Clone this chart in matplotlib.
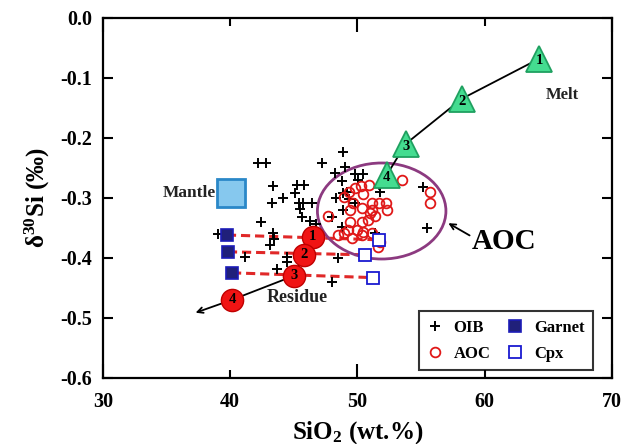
import matplotlib
matplotlib.use("Agg")
import matplotlib.pyplot as plt
from matplotlib.patches import Ellipse
from matplotlib.ticker import FixedLocator, FormatStrFormatter

plt.rcParams['font.family'] = ['Liberation Serif', 'DejaVu Serif']
plt.rcParams['font.weight'] = 'bold'
plt.rcParams['mathtext.fontset'] = 'custom'
plt.rcParams['mathtext.rm'] = 'Liberation Serif:bold'
plt.rcParams['mathtext.bf'] = 'Liberation Serif:bold'
plt.rcParams['mathtext.default'] = 'bf'

# ---------------- data ----------------
oib_sio2 = [42.18, 42.81, 47.21, 48.86, 43.36, 45.25, 45.80, 45.09, 44.15, 43.28,
            45.40, 45.72, 45.48, 46.42, 45.64, 46.27, 42.42, 46.74, 43.36, 43.44,
            43.12, 48.31, 48.00, 39.04, 41.16, 44.46, 44.46, 43.67, 48.47, 48.00,
            48.78, 48.23, 49.02, 49.80, 50.43, 50.04, 48.78, 48.86, 49.17, 49.33,
            49.80, 48.86, 51.38, 55.15, 55.46, 51.77]
oib_d30 = [-0.242, -0.242, -0.242, -0.223, -0.280, -0.278, -0.278, -0.292, -0.300, -0.308,
           -0.308, -0.308, -0.318, -0.308, -0.332, -0.338, -0.340, -0.343, -0.358, -0.368,
           -0.378, -0.300, -0.332, -0.360, -0.398, -0.398, -0.407, -0.418, -0.400, -0.440,
           -0.348, -0.258, -0.248, -0.260, -0.260, -0.270, -0.272, -0.292, -0.290, -0.302,
           -0.308, -0.320, -0.358, -0.282, -0.350, -0.290]

aoc_sio2 = [53.50, 55.70, 55.70, 50.28, 50.90, 49.80, 49.33, 48.94, 50.43, 51.14,
            51.69, 52.24, 49.65, 47.68, 49.41, 50.35, 51.14, 52.32, 49.41, 50.35,
            50.83, 51.38, 50.98, 49.25, 49.96, 50.43, 48.47, 49.57, 50.35, 51.14,
            51.77, 51.61, 48.94]
aoc_d30 = [-0.270, -0.290, -0.308, -0.280, -0.278, -0.283, -0.290, -0.298, -0.293, -0.308,
           -0.308, -0.308, -0.308, -0.330, -0.320, -0.317, -0.320, -0.320, -0.340, -0.340,
           -0.337, -0.330, -0.325, -0.353, -0.353, -0.357, -0.362, -0.367, -0.362, -0.358,
           -0.373, -0.382, -0.358]

garnet_sio2 = [39.74, 39.82, 40.14]
garnet_d30 = [-0.362, -0.390, -0.425]
cpx_sio2 = [51.69, 50.59, 51.22]
cpx_d30 = [-0.370, -0.395, -0.433]

melt_sio2 = [64.3, 58.2, 53.8, 52.3]
melt_d30 = [-0.068, -0.135, -0.210, -0.262]
melt_arrow_end = (51.5, -0.292)

res_sio2 = [46.5, 45.8, 45.0, 40.14]
res_d30 = [-0.365, -0.395, -0.430, -0.470]
res_arrow_end = (37.07, -0.493)

step_labels = ['1', '2', '3', '4']

mantle_sio2 = [40.06]
mantle_d30 = [-0.292]

aoc_ellipse_center = (51.9, -0.322)
aoc_ellipse_size = (10.1, 0.160)

# ---------------- figure ----------------
fig = plt.figure(figsize=(6.28, 4.44), dpi=100)
ax = fig.add_axes([0.164, 0.149, 0.8105, 0.811])

# dashed lines garnet -> cpx
for gx, gy, cx, cy in zip(garnet_sio2, garnet_d30, cpx_sio2, cpx_d30):
    ax.plot([gx, cx], [gy, cy], ls=(0, (3, 1.6)), color='#e02828', lw=2.2, zorder=2)

# AOC ellipse
ax.add_patch(Ellipse(aoc_ellipse_center, aoc_ellipse_size[0], aoc_ellipse_size[1],
                     fill=False, edgecolor='#8c3a80', lw=2.0, zorder=3))

# OIB and AOC
ax.plot(oib_sio2, oib_d30, ls='none', marker='+', ms=7, mew=1.4, color='black',
        zorder=4, label='OIB')
ax.plot(aoc_sio2, aoc_d30, ls='none', marker='o', ms=7, mew=1.3, mfc='none',
        mec='#e01818', zorder=4, label='AOC')

# Garnet & Cpx
ax.plot(garnet_sio2, garnet_d30, ls='none', marker='s', ms=9, mfc='#20207a',
        mec='#1c1cb8', mew=1.2, zorder=5, label='Garnet')
ax.plot(cpx_sio2, cpx_d30, ls='none', marker='s', ms=9, mfc='white',
        mec='#1a1ad0', mew=1.3, zorder=5, label='Cpx')

# Mantle
ax.plot(mantle_sio2, mantle_d30, ls='none', marker='s', ms=20, mfc='#86c8ee',
        mec='#2a88c8', mew=2, zorder=5)

# Melt path
ax.plot(melt_sio2, melt_d30, color='black', lw=1.3, zorder=5)
ax.annotate('', xy=melt_arrow_end, xytext=(melt_sio2[-1], melt_d30[-1]),
            arrowprops=dict(arrowstyle='->', color='black', lw=1.3), zorder=5)
ax.plot(melt_sio2, melt_d30, ls='none', marker='^', ms=19, mfc='#44dc90',
        mec='#1fa060', mew=1.3, zorder=6)
for x, y, s in zip(melt_sio2, melt_d30, step_labels):
    ax.text(x, y - 0.004, s, ha='center', va='center', fontsize=10.5, zorder=7)

# Residue path
ax.plot(res_sio2, res_d30, color='black', lw=1.3, zorder=5)
ax.annotate('', xy=res_arrow_end, xytext=(res_sio2[-1], res_d30[-1]),
            arrowprops=dict(arrowstyle='->', color='black', lw=1.3), zorder=5)
ax.plot(res_sio2, res_d30, ls='none', marker='o', ms=16, mfc='#f01414',
        mec='#c00000', mew=1, zorder=6)
for x, y, s in zip(res_sio2, res_d30, step_labels):
    ax.text(x, y, s, ha='center', va='center', fontsize=10.5, zorder=7)

# AOC label arrow
ax.annotate('', xy=(56.95, -0.340), xytext=(59.0, -0.365),
            arrowprops=dict(arrowstyle='->', color='black', lw=1.3))
ax.text(59.0, -0.373, 'AOC', fontsize=21, ha='left', va='center')
ax.text(66.1, -0.128, 'Melt', fontsize=12, ha='center', va='center', color='#222222')
ax.text(45.3, -0.466, 'Residue', fontsize=13, ha='center', va='center', color='#222222')
ax.text(38.9, -0.292, 'Mantle', fontsize=12.5, ha='right', va='center', color='#222222')

# axes
ax.set_xlim(30, 70)
ax.set_ylim(-0.6, 0.0)
ax.xaxis.set_major_locator(FixedLocator([30, 50, 70]))
ax.xaxis.set_minor_locator(FixedLocator([40, 60]))
ax.xaxis.set_major_formatter(FormatStrFormatter('%d'))
ax.xaxis.set_minor_formatter(FormatStrFormatter('%d'))
ax.yaxis.set_major_locator(FixedLocator([-0.6, -0.5, -0.4, -0.3, -0.2, -0.1, 0.0]))
ax.yaxis.set_major_formatter(FormatStrFormatter('%.1f'))
ax.tick_params(axis='both', which='both', direction='in', top=True, right=True,
               width=1.5, labelsize=14.5)
ax.tick_params(axis='x', which='major', length=10, pad=10)
ax.tick_params(axis='x', which='minor', length=6, pad=10)
ax.tick_params(axis='y', which='major', length=7, pad=8)
for lab in ax.get_xticklabels(which='both') + ax.get_yticklabels():
    lab.set_fontweight('bold')
for sp in ax.spines.values():
    sp.set_linewidth(1.6)

ax.set_xlabel('SiO$_{2}$ (wt.%)', fontsize=18, fontweight='bold', labelpad=5)
ax.set_ylabel('δ$^{30}$Si (‰)', fontsize=18, fontweight='bold', labelpad=6)

leg = ax.legend(loc='lower right', bbox_to_anchor=(0.962, 0.022), ncol=2,
                frameon=True, fancybox=False, edgecolor='black', fontsize=12,
                handlelength=1.0, handletextpad=0.6, columnspacing=1.0,
                borderpad=0.5, labelspacing=0.6, borderaxespad=0)
leg.get_frame().set_linewidth(1.5)
for t in leg.get_texts():
    t.set_fontweight('bold')

fig.savefig('out.png', dpi=100)
